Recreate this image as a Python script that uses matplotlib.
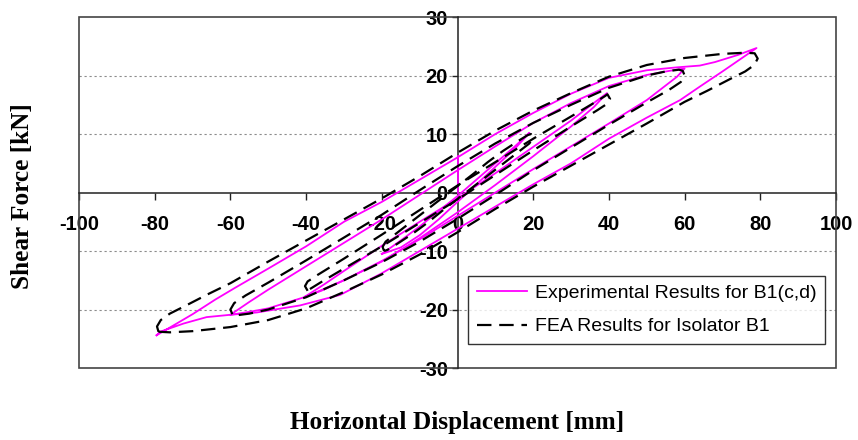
import numpy as np
import matplotlib
matplotlib.use("Agg")
import matplotlib.pyplot as plt
from matplotlib.patches import Rectangle
from matplotlib.lines import Line2D

# Experimental hysteresis loops (displacement mm, shear force kN)
exp_80_up_x = [-79.5, -75, -70, -64, -58.8, -50, -40, -30, -20, -10, 0, 10, 20, 30, 40, 50, 58, 64, 68, 74, 79]
exp_80_up_f = [-24.4, -22.7, -20.8, -18.3, -16.3, -13.0, -9.2, -5.0, -1.6, 2.2, 6.0, 10.0, 13.6, 16.9, 19.6, 20.9, 21.4, 21.7, 22.3, 23.5, 24.7]
exp_80_lo_x = [79, 70, 64, 58.8, 50, 40, 30, 20, 10, 0, -10, -20, -31, -41.6, -53, -60, -66.3, -72.4, -78.6, -79.5]
exp_80_lo_f = [24.7, 20.7, 18.1, 15.8, 12.8, 9.2, 5.0, 1.4, -2.4, -6.2, -10.0, -13.8, -17.5, -19.3, -20.5, -20.9, -21.3, -22.4, -23.8, -24.4]

exp_60_up_x = [-60, -55, -50, -40, -30, -20, -10, 0, 10, 20, 30, 40, 50, 56, 60]
exp_60_up_f = [-20.9, -18.7, -16.6, -12.6, -8.6, -4.6, -0.4, 3.8, 7.9, 11.9, 15.3, 18.2, 20.1, 20.8, 21.2]
exp_60_lo_x = [60, 58, 50, 40, 30, 20, 10, 0, -10, -20, -30, -40, -50, -55, -60]
exp_60_lo_f = [21.2, 19.8, 15.8, 11.8, 7.9, 4.0, 0.0, -4.0, -8.0, -11.7, -15.0, -17.8, -19.8, -20.4, -20.9]

exp_40_up_x = [-40.3, -35, -30, -20, -10, 0, 10, 20, 30, 36, 39.5]
exp_40_up_f = [-17.8, -15.6, -13.4, -9.1, -5.0, -1.0, 3.3, 7.8, 12.3, 15.3, 17.0]
exp_40_lo_x = [39.5, 36, 30, 20, 10, 0, -10, -20, -30, -36, -40.3]
exp_40_lo_f = [17.0, 14.6, 11.3, 6.2, 1.3, -3.4, -7.8, -11.8, -15.0, -16.8, -17.8]

exp_20_up_x = [-20, -15, -10, -5, 0, 5, 10, 15, 19]
exp_20_up_f = [-10.5, -8.2, -5.8, -3.2, -0.6, 2.2, 5.0, 7.8, 10.2]
exp_20_lo_x = [19, 15, 10, 5, 0, -5, -10, -15, -20]
exp_20_lo_f = [10.2, 7.4, 4.4, 1.4, -1.6, -4.6, -7.3, -9.4, -10.5]

exp_start_x = [0, 0]
exp_start_f = [0, 6.2]

# FEA hysteresis loops for isolator B1
fea_80_up_x = [-79.0, -79.4, -78.4, -76, -72, -66, -60, -50, -40, -30, -20, -10, 0, 10, 20, 30, 40, 50, 60, 70, 76]
fea_80_up_f = [-23.8, -22.9, -21.8, -20.7, -19.4, -17.4, -15.5, -11.8, -8.2, -4.6, -1.0, 2.8, 6.8, 10.6, 14.0, 17.0, 19.8, 21.8, 23.0, 23.7, 23.9]
fea_80_lo_x = [78.5, 79.3, 78.4, 76, 72, 66, 60, 50, 40, 30, 20, 10, 0, -10, -20, -30, -40, -50, -60, -70, -76, -79.0]
fea_80_lo_f = [23.8, 22.9, 21.8, 20.7, 19.4, 17.4, 15.5, 11.8, 8.2, 4.6, 1.0, -2.8, -6.8, -10.6, -14.0, -17.0, -19.8, -21.8, -23.0, -23.7, -23.9, -23.8]

fea_60_up_x = [-59.5, -60.0, -59.0, -56, -50, -40, -30, -20, -10, 0, 10, 20, 30, 40, 50, 55, 58.5]
fea_60_up_f = [-20.8, -20.0, -18.9, -17.6, -15.4, -11.6, -7.7, -3.8, 0.4, 4.5, 8.4, 11.9, 15.0, 17.9, 20.0, 20.7, 21.0]
fea_60_lo_x = [59.5, 60.0, 59.0, 56, 50, 40, 30, 20, 10, 0, -10, -20, -30, -40, -50, -55, -58.5, -59.5]
fea_60_lo_f = [20.8, 20.0, 18.9, 17.6, 15.4, 11.6, 7.7, 3.8, -0.4, -4.5, -8.4, -11.9, -15.0, -17.9, -20.0, -20.7, -21.0, -20.8]

fea_40_up_x = [-39.6, -40.3, -39.6, -37, -33, -30, -20, -10, 0, 10, 20, 30, 36, 39]
fea_40_up_f = [-16.8, -16.0, -15.2, -14.1, -12.5, -11.3, -7.2, -3.0, 1.2, 5.2, 9.2, 13.0, 15.3, 16.5]
fea_40_lo_x = [39.6, 40.3, 39.6, 37, 33, 30, 20, 10, 0, -10, -20, -30, -36, -39, -39.6]
fea_40_lo_f = [16.8, 16.0, 15.2, 14.1, 12.5, 11.3, 7.2, 3.0, -1.2, -5.2, -9.2, -13.0, -15.3, -16.5, -16.8]

fea_20_up_x = [-19.4, -19.8, -19.0, -17, -13, -8, -4, 0, 4, 8, 12, 16, 18.5]
fea_20_up_f = [-10.0, -9.3, -8.4, -7.4, -5.4, -2.9, -0.9, 1.1, 3.1, 5.2, 7.1, 8.8, 9.8]
fea_20_lo_x = [19.4, 19.8, 19.0, 17, 13, 8, 4, 0, -4, -8, -12, -16, -18.5, -19.4]
fea_20_lo_f = [10.0, 9.3, 8.4, 7.4, 5.4, 2.9, 0.9, -1.1, -3.1, -5.2, -7.1, -8.8, -9.8, -10.0]

x_ticks = [-100, -80, -60, -40, -20, 0, 20, 40, 60, 80, 100]
y_ticks = [-30, -20, -10, 0, 10, 20, 30]
grid_levels = [-20, -10, 10, 20]

exp_loops = [
    (exp_80_up_x + exp_80_lo_x, exp_80_up_f + exp_80_lo_f),
    (exp_60_up_x + exp_60_lo_x, exp_60_up_f + exp_60_lo_f),
    (exp_40_up_x + exp_40_lo_x, exp_40_up_f + exp_40_lo_f),
    (exp_20_up_x + exp_20_lo_x, exp_20_up_f + exp_20_lo_f),
    (exp_start_x, exp_start_f),
]
fea_loops = [
    (fea_80_up_x + fea_80_lo_x, fea_80_up_f + fea_80_lo_f),
    (fea_60_up_x + fea_60_lo_x, fea_60_up_f + fea_60_lo_f),
    (fea_40_up_x + fea_40_lo_x, fea_40_up_f + fea_40_lo_f),
    (fea_20_up_x + fea_20_lo_x, fea_20_up_f + fea_20_lo_f),
]

MAGENTA = "#ff00ff"
tick_font = {"family": "Liberation Sans", "weight": "bold", "size": 14.5}

fig = plt.figure(figsize=(8.58, 4.40), dpi=100)
ax = fig.add_axes([0.0921, 0.1636, 0.8823, 0.7977])
ax.set_xlim(-100, 100)
ax.set_ylim(-30, 30)

for lev in grid_levels:
    ax.axhline(lev, color="#8c8c8c", lw=0.8, ls=(0, (2, 2.5)), zorder=1)

for xs, fs in exp_loops:
    ax.plot(xs, fs, color=MAGENTA, lw=1.3, zorder=3, solid_joinstyle="round")
for xs, fs in fea_loops:
    ax.plot(xs, fs, color="black", lw=1.6, dashes=(6.5, 3.5), zorder=4)

# axes crossing at the origin, frame drawn separately
ax.spines["left"].set_position(("data", 0))
ax.spines["bottom"].set_position(("data", 0))
ax.spines["top"].set_visible(False)
ax.spines["right"].set_visible(False)
for s in ("left", "bottom"):
    ax.spines[s].set_color("#222222")
    ax.spines[s].set_linewidth(1.1)
    ax.spines[s].set_zorder(2)
ax.add_patch(Rectangle((0, 0), 1, 1, transform=ax.transAxes, fill=False,
                       edgecolor="#444444", lw=1.2, clip_on=False, zorder=2))

ax.set_xticks(x_ticks)
ax.set_yticks(y_ticks)
ax.set_xticklabels([str(v) for v in x_ticks], fontdict=tick_font)
ax.set_yticklabels([str(v) for v in y_ticks], fontdict=tick_font)
ax.tick_params(axis="x", direction="out", length=5, width=1, color="#222222", pad=11)
ax.tick_params(axis="y", direction="out", length=4, width=1, color="#222222", pad=3)

fig.text(0.026, 0.5534, "Shear Force [kN]", rotation=90, ha="center", va="center",
         family="Liberation Serif", weight="bold", fontsize=18.2)
fig.text(0.533, 0.039, "Horizontal Displacement [mm]", ha="center", va="center",
         family="Liberation Serif", weight="bold", fontsize=18.2)

handles = [Line2D([], [], color=MAGENTA, lw=1.3),
           Line2D([], [], color="black", lw=1.6, dashes=(6.5, 3.5))]
leg = ax.legend(handles, ["Experimental Results for B1(c,d)", "FEA Results for Isolator B1"],
                loc="lower left", bbox_to_anchor=(0.514, 0.068, 0.4715, 0.194), mode="expand",
                prop={"family": "Liberation Sans", "size": 14}, frameon=True, fancybox=False,
                handlelength=2.6, handletextpad=0.4, labelspacing=0.8, borderpad=0.45,
                borderaxespad=0)
leg.get_frame().set_edgecolor("black")
leg.get_frame().set_linewidth(1.0)
leg.set_zorder(6)

fig.savefig("out.png", dpi=100, facecolor="white")
